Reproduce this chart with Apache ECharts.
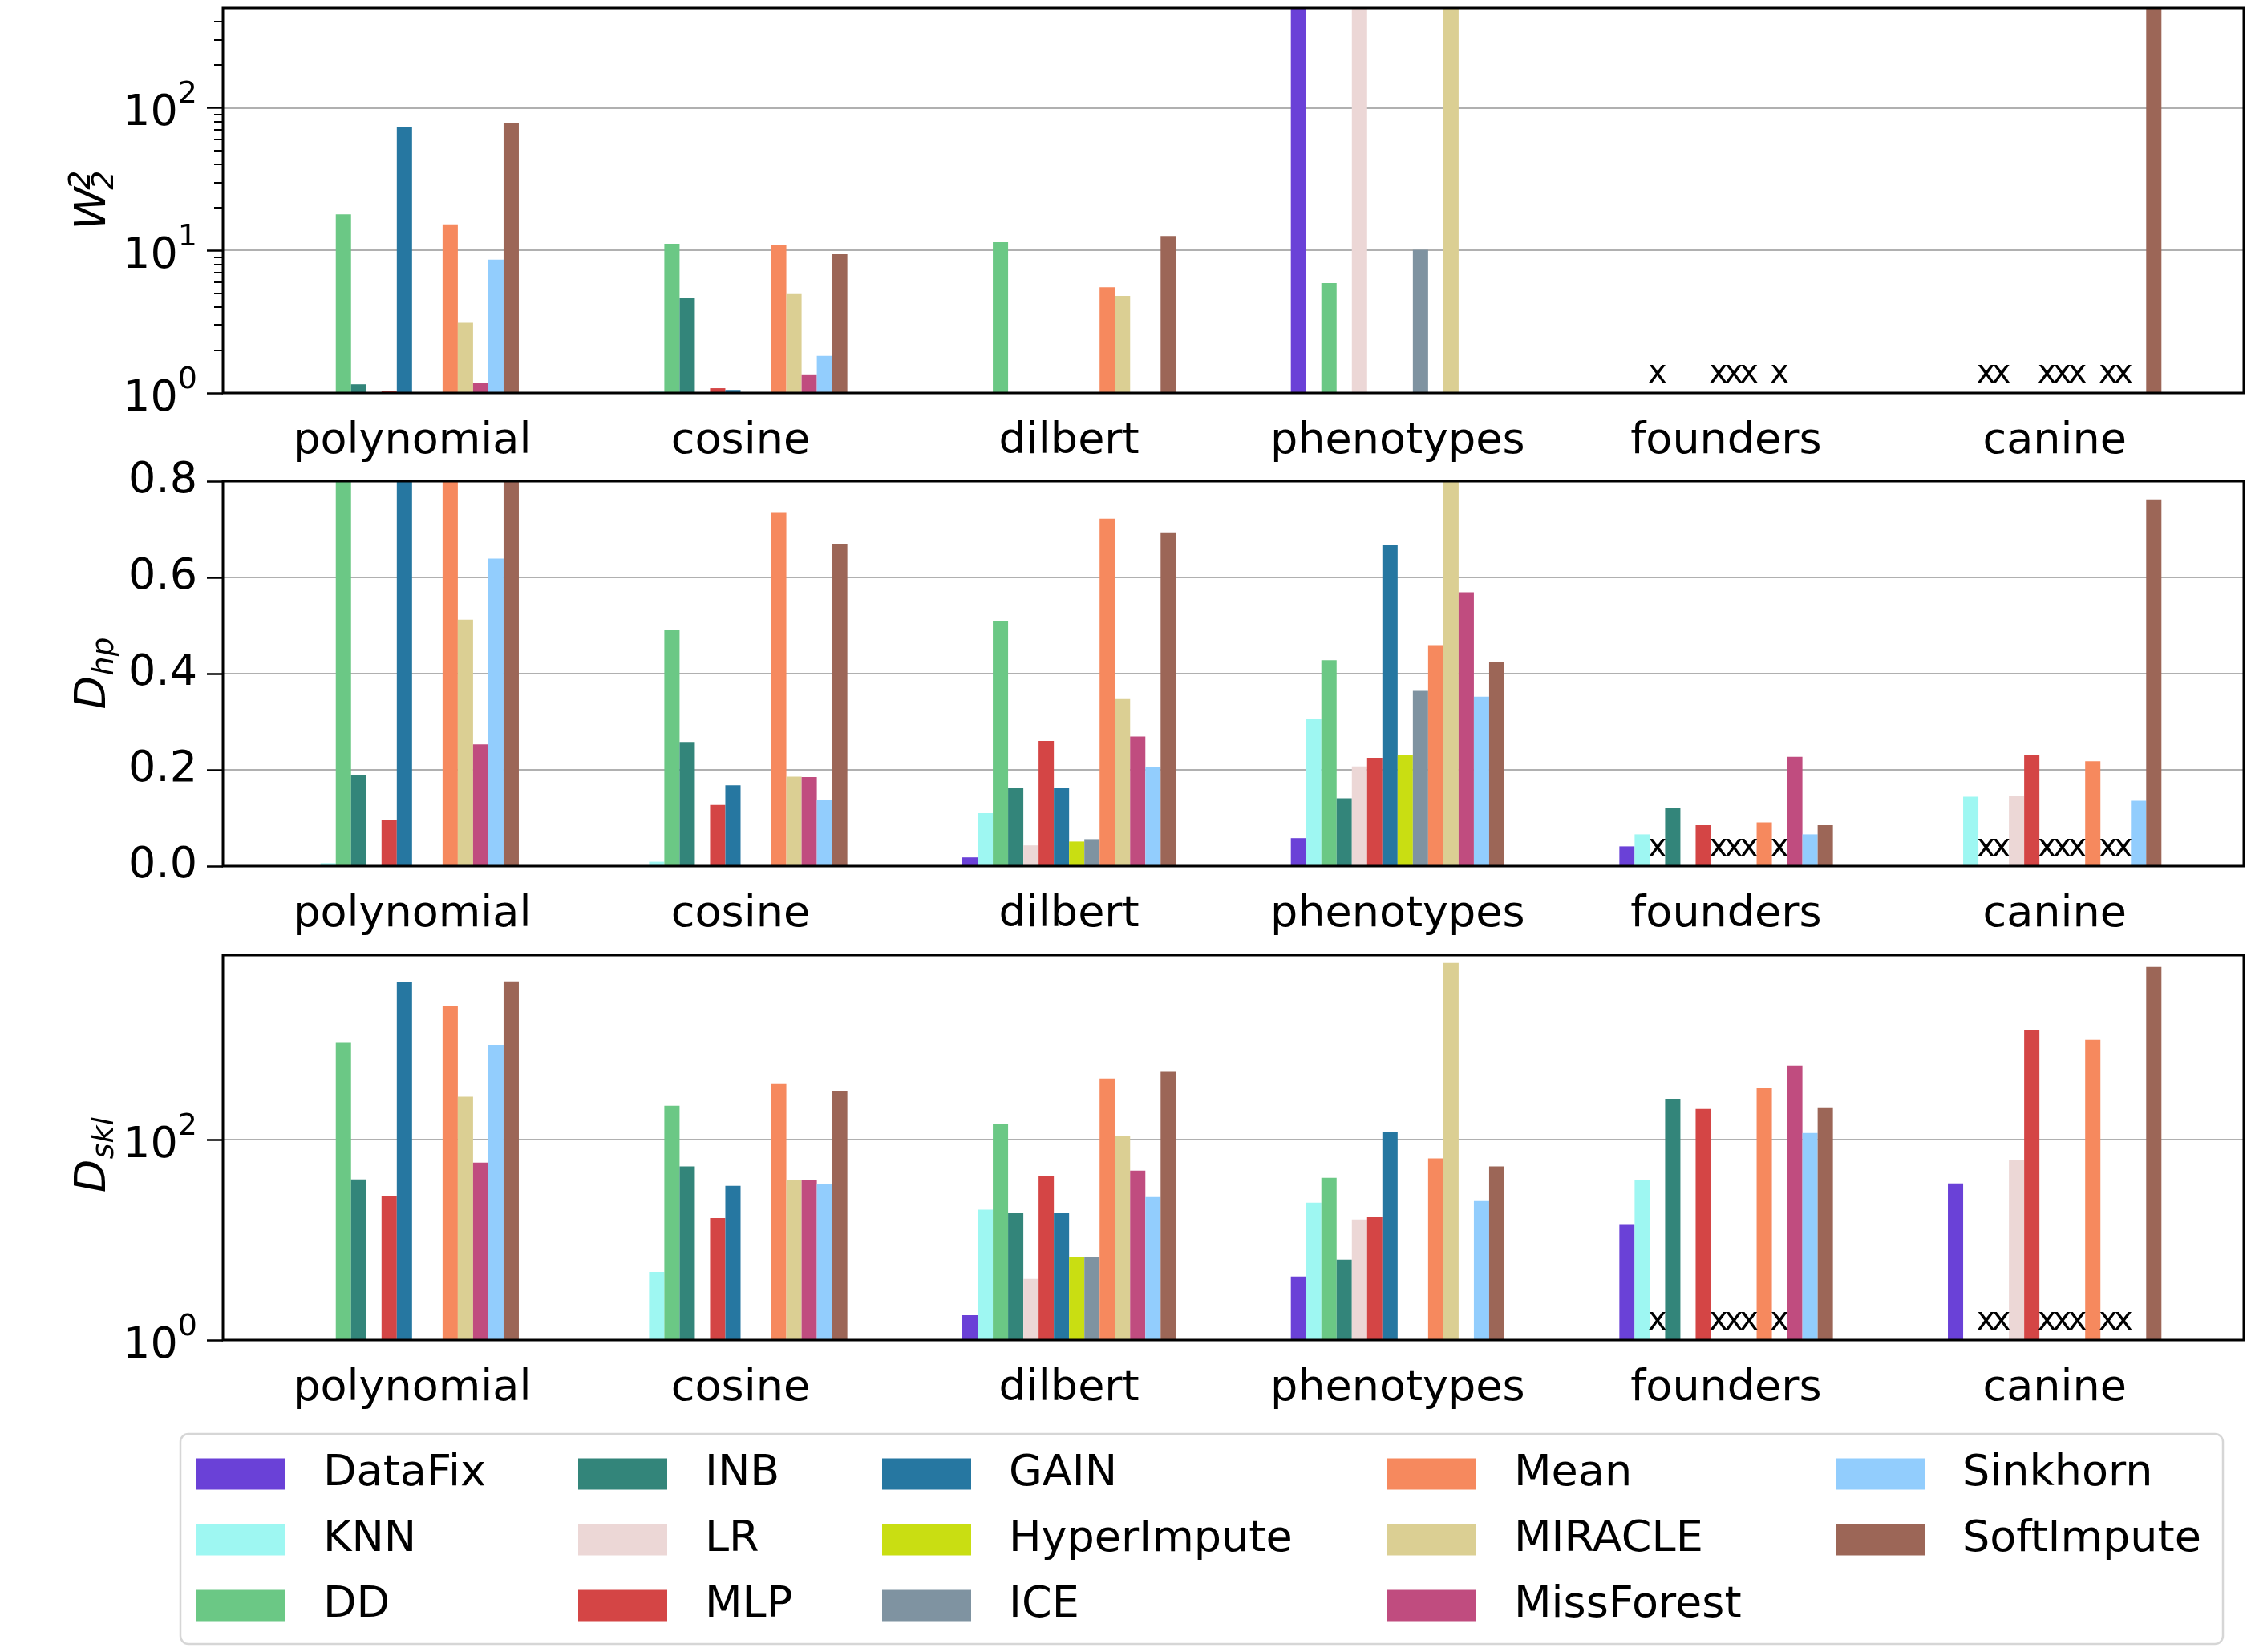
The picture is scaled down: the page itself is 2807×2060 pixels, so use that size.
<!DOCTYPE html>
<html>
<head>
<meta charset="utf-8">
<script src="https://cdn.jsdelivr.net/npm/echarts@6/dist/echarts.min.js"></script>
<style>
  html, body { margin: 0; background: #fff; }
  #main { width: 2807px; height: 2060px; }
</style>
</head>
<body>
<div id="main"></div>
<script>
// datasets on the x axis
const datasets = ['polynomial', 'cosine', 'dilbert', 'phenotypes', 'founders', 'canine'];
const methods = ['DataFix', 'KNN', 'DD', 'INB', 'LR', 'MLP', 'GAIN', 'HyperImpute', 'ICE',
  'Mean', 'MIRACLE', 'MissForest', 'Sinkhorn', 'SoftImpute'];
const colors = ['#6a41d7', '#9ef7f2', '#6bc885', '#33857a', '#ecd7d6', '#d44545', '#2677a1',
  '#c9de12', '#7f93a1', '#f6895e', '#dbcf93', '#c04c7f', '#92cdfd', '#9c6657'];

// rows follow methods, columns follow datasets; null = not visible on the plot
// values above the axis top are cut off by the plot frame
const w2 = [
  [null, null, null, 1000, null, null],   // DataFix
  [null, 1.02, null, null, null, null],   // KNN
  [17.9, 11.1, 11.4, 5.9, null, null],    // DD
  [1.15, 4.67, null, null, null, null],   // INB
  [null, null, null, 1000, null, null],   // LR
  [1.03, 1.08, null, null, null, null],   // MLP
  [73.6, 1.05, null, null, null, null],   // GAIN
  [null, null, null, null, null, null],   // HyperImpute
  [null, null, null, 10.1, null, null],   // ICE
  [15.2, 10.9, 5.5, null, null, null],    // Mean
  [3.1, 5.0, 4.79, 1000, null, null],     // MIRACLE
  [1.18, 1.35, null, null, null, null],   // MissForest
  [8.6, 1.82, null, null, null, null],    // Sinkhorn
  [77.6, 9.4, 12.6, null, null, 1000]     // SoftImpute
];
const dhp = [
  [null, null, 0.018, 0.058, 0.041, null],
  [0.006, 0.009, 0.110, 0.305, 0.066, 0.144],
  [0.9, 0.49, 0.510, 0.428, null, null],
  [0.19, 0.258, 0.163, 0.141, 0.120, null],
  [null, null, 0.043, 0.207, null, 0.146],
  [0.096, 0.127, 0.260, 0.225, 0.085, 0.231],
  [0.9, 0.168, 0.162, 0.667, null, null],
  [null, null, 0.051, 0.230, null, null],
  [null, null, 0.056, 0.364, null, null],
  [0.9, 0.734, 0.722, 0.459, 0.091, 0.218],
  [0.512, 0.186, 0.347, 0.9, null, null],
  [0.253, 0.185, 0.269, 0.569, 0.227, null],
  [0.639, 0.138, 0.205, 0.352, 0.066, 0.136],
  [0.9, 0.670, 0.692, 0.425, 0.085, 0.762]
];
const dskl = [
  [null, null, 1.77, 4.30, 14.3, 36.5],
  [null, 4.79, 19.9, 23.4, 39.3, null],
  [934, 217, 142.6, 41.5, null, null],
  [39.9, 53.8, 18.5, 6.34, 256, null],
  [null, null, 4.07, 15.9, null, 62.1],
  [27.0, 16.4, 43.0, 16.8, 202, 1227],
  [3700, 34.5, 18.7, 120, null, null],
  [null, null, 6.69, null, null, null],
  [null, null, 6.69, null, null, null],
  [2130, 357, 407, 64.7, 325, 986],
  [267, 39.3, 108, 5760, null, null],
  [58.8, 39.3, 48.9, null, 545, null],
  [879, 35.7, 26.7, 24.7, 116, null],
  [3776, 303, 473, 53.8, 206, 5270]
];
// methods that failed on a dataset (drawn as "x")
const failed = [[], [], [], [], ['DD', 'GAIN', 'HyperImpute', 'ICE', 'MIRACLE'],
  ['DD', 'INB', 'GAIN', 'HyperImpute', 'ICE', 'MIRACLE', 'MissForest']];
const logTicksW2 = [1, 10, 100];
const logMinorW2 = [2, 3, 4, 5, 6, 7, 8, 9, 20, 30, 40, 50, 60, 70, 80, 90, 200, 300, 400];
const logTicksSkl = [1, 100];

const FONT = 'DejaVu Sans';
const chart = echarts.init(document.getElementById('main'));

const panels = [
  { data: w2, top: 10, height: 480, axis: { type: 'log', logBase: 10, min: 1, max: 500 },
    ticks: logTicksW2, minor: logMinorW2, mark: 1.83 },
  { data: dhp, top: 600, height: 480, axis: { type: 'value', min: 0, max: 0.8, interval: 0.2 },
    mark: 0.074 },
  { data: dskl, top: 1191, height: 480, axis: { type: 'log', logBase: 100, min: 1, max: 6900 },
    ticks: logTicksSkl, mark: 2.35 }
];

const logLabel = {
  formatter: v => '{b|10}{s|' + Math.round(Math.log10(v)) + '}',
  rich: {
    b: { fontSize: 54, lineHeight: 70, verticalAlign: 'bottom', fontFamily: FONT, color: '#000' },
    s: { fontSize: 38, lineHeight: 38, verticalAlign: 'top', fontFamily: FONT, color: '#000' }
  }
};

const grid = [], xAxis = [], yAxis = [], series = [], graphic = [];
const tickLine = { color: '#000', width: 2.5 };

panels.forEach((p, i) => {
  const outer = grid.length;
  grid.push({ left: 278, right: 9, top: p.top, height: p.height });
  grid.push({ left: 309, right: 40, top: p.top, height: p.height });
  const inner = outer + 1;

  xAxis.push({ gridIndex: outer, type: 'value', min: 0, max: 1, show: false });
  const xIdx = xAxis.length;
  xAxis.push({
    gridIndex: inner, type: 'category', data: datasets,
    axisLine: { show: false },
    axisTick: { alignWithLabel: true, length: 22, lineStyle: tickLine },
    axisLabel: { fontSize: 54, fontFamily: FONT, color: '#000', margin: 34, interval: 0 },
    splitLine: { show: false }
  });

  const label = p.axis.type === 'log'
    ? Object.assign({ margin: 32, customValues: p.ticks }, logLabel)
    : { margin: 32, fontSize: 54, fontFamily: FONT, color: '#000', formatter: v => v.toFixed(1) };
  const tick = { show: true, length: 20, lineStyle: tickLine };
  if (p.ticks) tick.customValues = p.ticks;
  yAxis.push(Object.assign({
    gridIndex: outer, position: 'left', axisLine: { show: false }, axisTick: tick, axisLabel: label,
    splitLine: { show: true, lineStyle: { color: '#b0b0b0', width: 2 } }
  }, p.axis));
  if (p.minor) {
    yAxis.push(Object.assign({
      gridIndex: outer, position: 'left', offset: 0,
      axisLine: { show: false }, axisLabel: { show: false }, splitLine: { show: false },
      axisTick: { show: true, length: 11, customValues: p.minor, lineStyle: { color: '#000', width: 2 } }
    }, p.axis));
  }
  const yIdx = yAxis.length;
  yAxis.push(Object.assign({ gridIndex: inner, show: false }, p.axis));

  methods.forEach((m, k) => {
    series.push({
      type: 'bar', name: m, xAxisIndex: xIdx, yAxisIndex: yIdx,
      barGap: '0%', barCategoryGap: '35%', clip: true,
      itemStyle: { color: colors[k] },
      emphasis: { disabled: true },
      data: datasets.map((d, j) => failed[j].includes(m)
        ? { value: p.mark, itemStyle: { color: 'rgba(0,0,0,0)' },
            label: { show: true, position: 'inside', formatter: 'x', fontSize: 40,
              fontFamily: FONT, color: '#000', textBorderWidth: 0 } }
        : p.data[k][j])
    });
  });

  // plot frame
  graphic.push({
    type: 'rect', z: 100, silent: true,
    shape: { x: 278, y: p.top, width: 2520, height: p.height },
    style: { fill: 'none', stroke: '#000', lineWidth: 3 }
  });
});

// y axis titles in math style
function mathTitle(cy, main, sub, sup, mainW) {
  const total = mainW + 38 * 0.62 * Math.max(sub.length, sup.length);
  const x0 = -total / 2;
  const t = (text, x, y, size) => ({
    type: 'text', x: x, y: y,
    style: { text: text, font: 'italic ' + size + 'px "' + FONT + '"', fill: '#000',
      align: 'left', verticalAlign: 'middle', textAlign: 'left', textVerticalAlign: 'middle' }
  });
  const kids = [t(main, x0, 5, 54)];
  if (sub) kids.push(t(sub, x0 + mainW, 19, 38));
  if (sup) kids.push(t(sup, x0 + mainW, -10, 38));
  return { type: 'group', x: 112, y: cy, rotation: Math.PI / 2, children: kids };
}
graphic.push(mathTitle(250, 'W', '2', '2', 50));
graphic.push(mathTitle(840, 'D', 'hp', '', 42));
graphic.push(mathTitle(1431, 'D', 'skl', '', 42));

// legend frame
graphic.push({
  type: 'rect', z: -1, silent: true,
  shape: { x: 225, y: 1788, width: 2547, height: 262, r: 10 },
  style: { fill: '#fff', stroke: '#d6d6d6', lineWidth: 2.5 }
});

const legendLeft = [245, 721, 1100, 1730, 2289];
const legend = legendLeft.map((left, c) => ({
  orient: 'vertical', left: left, top: 1811, height: 250, padding: 0,
  itemWidth: 111, itemHeight: 39, itemGap: 28, icon: 'rect', selectedMode: false,
  data: methods.slice(c * 3, c * 3 + 3),
  textStyle: { fontSize: 54, fontFamily: FONT, color: '#000', padding: [0, 0, 0, 42] }
}));

chart.setOption({
  animation: false,
  backgroundColor: '#fff',
  grid, xAxis, yAxis, series, legend, graphic
});
</script>
</body>
</html>
